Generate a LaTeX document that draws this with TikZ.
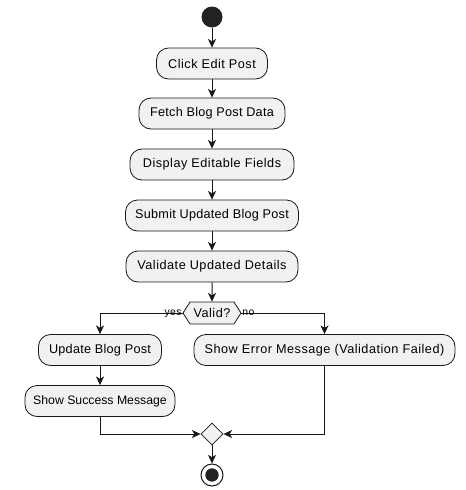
\documentclass[tikz,border=0pt]{standalone}
\usepackage{fontspec}
\setmainfont[LetterSpace=4]{Liberation Sans}
\newfontfamily\midfont[LetterSpace=2]{Liberation Sans}
\newfontfamily\tightfont{Liberation Sans}
\usetikzlibrary{arrows.meta,shapes.geometric,shapes.symbols}
\definecolor{boxfill}{HTML}{F1F1F1}
\definecolor{linec}{HTML}{181818}
\definecolor{startc}{HTML}{222222}
\tikzset{
  act/.style={draw=linec, line width=0.6pt, fill=boxfill, rounded corners=9pt,
    minimum height=23.25pt, inner sep=0pt, font=\fontsize{9.5}{11}\selectfont},
  actmid/.style={act, font=\midfont\fontsize{9.5}{11}\selectfont},
  flow/.style={draw=linec, line width=0.75pt, -{Stealth[length=6.5pt,width=6pt,inset=1.8pt]}},
  lbl/.style={font=\fontsize{7.8}{10}\selectfont, inner sep=0.5pt},
}
\begin{document}
\begin{tikzpicture}[x=0.75pt,y=-0.75pt]
\useasboundingbox (0,0) rectangle (466,490);
\node[circle, fill=startc, minimum size=15.75pt, inner sep=0pt] (start) at (212,17) {};
\node[act, minimum width=83.25pt] (click) at (212,63.5) {Click Edit Post};
\node[actmid, minimum width=109.5pt] (fetch) at (212,113.5) {Fetch Blog Post Data};
\node[act, minimum width=123pt] (display) at (212,164.5) {Display Editable Fields};
\node[actmid, minimum width=129.75pt] (submit) at (212,215.5) {Submit Updated Blog Post};
\node[act, minimum width=129pt] (validate) at (212,266.5) {Validate Updated Details};
\node[signal, signal to=west and east, signal pointer angle=115, draw=linec, line width=0.6pt,
  fill=boxfill, minimum width=43.5pt, minimum height=16.5pt, inner sep=1pt, inner xsep=0pt,
  font=\fontsize{9.5}{11}\selectfont] (valid) at (212,313) {Valid?};
\node[actmid, minimum width=92.25pt] (update) at (100,350) {Update Blog Post};
\node[act, minimum width=112.5pt, font=\tightfont\fontsize{9.2}{11}\selectfont] (success) at (100,401) {Show Success Message};
\node[act, minimum width=195.75pt] (error) at (324.5,350) {Show Error Message (Validation Failed)};
\node[diamond, draw=linec, line width=0.6pt, fill=boxfill, minimum size=16.5pt, inner sep=0pt, aspect=1] (merge) at (212,434) {};
\node[circle, draw=linec, line width=0.75pt, fill=white, minimum size=16.5pt, inner sep=0pt] (endo) at (212,475) {};
\node[circle, fill=startc, minimum size=10pt, inner sep=0pt] (endi) at (212,475) {};

\draw[flow] (start) -- (click);
\draw[flow] (click) -- (fetch);
\draw[flow] (fetch) -- (display);
\draw[flow] (display) -- (submit);
\draw[flow] (submit) -- (validate);
\draw[flow] (validate) -- (valid);
\draw[flow] (valid.west) -| (update.north);
\draw[flow] (valid.east) -| (error.north);
\draw[flow] (update) -- (success);
\draw[flow] (success.south) |- (merge.west);
\draw[flow] (error.south) |- (merge.east);
\draw[flow] (merge) -- (endo);
\node[lbl, anchor=base east] (yes) at ([yshift=-2pt]valid.west) {yes};
\node[lbl, anchor=base west] (no) at ([yshift=-2pt]valid.east) {no};
\end{tikzpicture}
\end{document}
